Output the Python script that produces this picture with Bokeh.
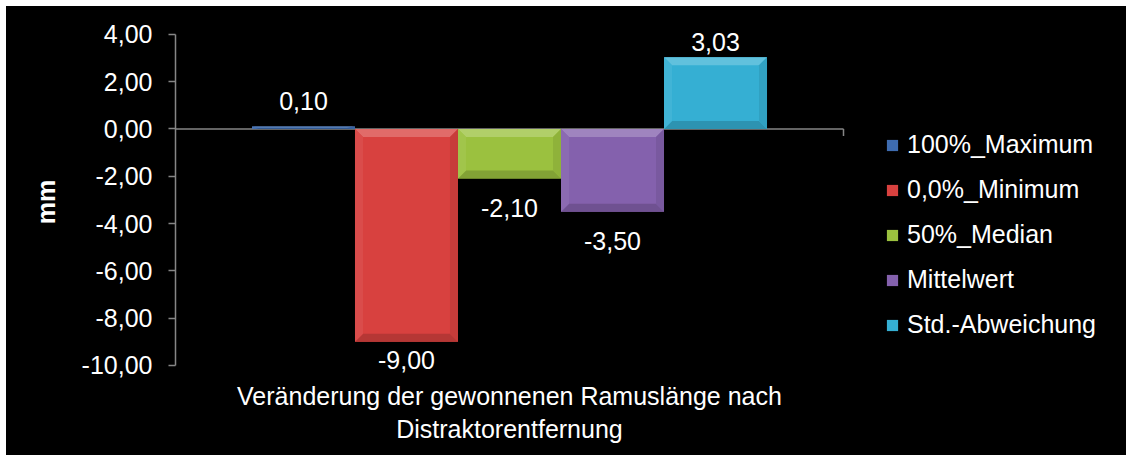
from bokeh.plotting import figure
from bokeh.models import (Range1d, FixedTicker, Legend, LegendItem, ColumnDataSource)
from bokeh.core.properties import value
from bokeh.embed import file_html
from bokeh.resources import INLINE

# ---------------- data ----------------
category = "Veränderung der gewonnenen Ramuslänge nach\nDistraktorentfernung"
series = ["100%_Maximum", "0,0%_Minimum", "50%_Median", "Mittelwert", "Std.-Abweichung"]
values = [0.10, -9.00, -2.10, -3.50, 3.03]
y_ticks = [-10, -8, -6, -4, -2, 0, 2, 4]
y_label = "mm"

# ---------------- style ----------------
colors = ["#3E6CB0", "#D8413F", "#9BC13F", "#8461AD", "#35AFD3"]
label_offsets_px = [-26, 18, 29, 29, -15]   # vertical offset of value labels (screen px)
FONT = "Liberation Sans"
FS = "25px"
W, H = 1120, 449
BORDER_L = 169
cat_w_px = 668            # pixel width of the category band (plot area)
frame_w_px = W - BORDER_L
bar_w = 0.1542            # fraction of the category band per bar
axis_lo, axis_hi = -10, 4
view_lo, view_hi = -10.6, 4.42
px_per_unit = 331 / (axis_hi - axis_lo)
units_per_px = 1 / px_per_unit
AXIS_GRAY = "#868686"

def mix(hexc, other, t):
    a = [int(hexc[i:i + 2], 16) for i in (1, 3, 5)]
    b = [int(other[i:i + 2], 16) for i in (1, 3, 5)]
    c = [round(x + (y - x) * t) for x, y in zip(a, b)]
    return "#%02x%02x%02x" % tuple(c)

p = figure(width=W, height=H, output_backend="svg", toolbar_location=None,
           x_range=Range1d(0, frame_w_px / cat_w_px),
           y_range=Range1d(view_lo, view_hi),
           background_fill_color="black", border_fill_color="black",
           min_border_left=BORDER_L, min_border_right=0, min_border_top=18, min_border_bottom=76)
p.margin = (6, 0, 0, 6)
p.styles = {"background-color": "black"}
p.outline_line_color = None
p.grid.visible = False

# y axis
ya = p.yaxis[0]
ya.ticker = FixedTicker(ticks=y_ticks)
ya.bounds = (axis_lo, axis_hi)
ya.major_label_overrides = {t: f"{t:.2f}".replace(".", ",") for t in y_ticks}
ya.axis_line_color = AXIS_GRAY
ya.axis_line_width = 1.5
ya.major_tick_line_color = AXIS_GRAY
ya.major_tick_line_width = 1.5
ya.major_tick_out = 7
ya.major_tick_in = 0
ya.minor_tick_line_color = None
ya.major_label_text_color = "white"
ya.major_label_text_font = FONT
ya.major_label_text_font_size = FS
ya.major_label_standoff = 16
ya.axis_label = y_label
ya.axis_label_text_color = "white"
ya.axis_label_text_font = FONT
ya.axis_label_text_font_size = FS
ya.axis_label_text_font_style = "bold"
ya.axis_label_standoff = 19

# x axis (single category centred in the category band)
xa = p.xaxis[0]
xa.ticker = FixedTicker(ticks=[0.5])
xa.major_label_overrides = {0.5: category}
xa.axis_line_color = None
xa.major_tick_line_color = None
xa.minor_tick_line_color = None
xa.major_label_text_color = "white"
xa.major_label_text_font = FONT
xa.major_label_text_font_size = FS
xa.major_label_standoff = -4

# category axis line at zero across the category band, with its end tick
p.line(x=[0, 1], y=[0, 0], line_color=AXIS_GRAY, line_width=1.5)
p.segment(x0=[1], y0=[0], x1=[1], y1=[-7 * units_per_px], line_color=AXIS_GRAY, line_width=1.5)

n = len(values)
centers = [0.5 + (i - (n - 1) / 2) * bar_w for i in range(n)]
hw = bar_w / 2
bevel_px = 8
bx = bevel_px / cat_w_px

items = []
for i, (s, v, c) in enumerate(zip(series, values, colors)):
    top, bot = max(v, 0), min(v, 0)
    r = p.vbar(x=[centers[i]], top=[top], bottom=[bot], width=bar_w,
               fill_color=c, line_color=None)
    items.append(LegendItem(label=s, renderers=[r]))
    by = min(bevel_px * units_per_px, (top - bot) / 2)
    xl, xr = centers[i] - hw, centers[i] + hw
    xs = [
        [xl, xr, xr - bx, xl + bx],
        [xl, xr, xr - bx, xl + bx],
        [xl, xl + bx, xl + bx, xl],
        [xr, xr - bx, xr - bx, xr],
    ]
    ys = [
        [top, top, top - by, top - by],
        [bot, bot, bot + by, bot + by],
        [top, top - by, bot + by, bot],
        [top, top - by, bot + by, bot],
    ]
    cols = [mix(c, "#ffffff", 0.22), mix(c, "#000000", 0.16),
            mix(c, "#ffffff", 0.06), mix(c, "#000000", 0.08)]
    p.patches(xs=xs, ys=ys, fill_color=cols, line_color=None)

lab_src = ColumnDataSource(dict(
    x=centers, y=values,
    text=[f"{v:.2f}".replace(".", ",") for v in values],
    yoff=label_offsets_px))
p.text(x="x", y="y", text="text", y_offset="yoff", source=lab_src,
       text_color="white", text_font=value(FONT), text_font_size=FS,
       text_align="center", text_baseline="middle")

legend = Legend(items=items, location=(710, 40), orientation="vertical",
                background_fill_alpha=0, border_line_color=None,
                label_text_color="white", label_text_font=FONT, label_text_font_size=FS,
                glyph_width=14, glyph_height=14, label_height=28, label_standoff=8,
                spacing=16, padding=0, margin=0)
p.add_layout(legend, "center")

open("out.html", "w").write(file_html(p, INLINE))
